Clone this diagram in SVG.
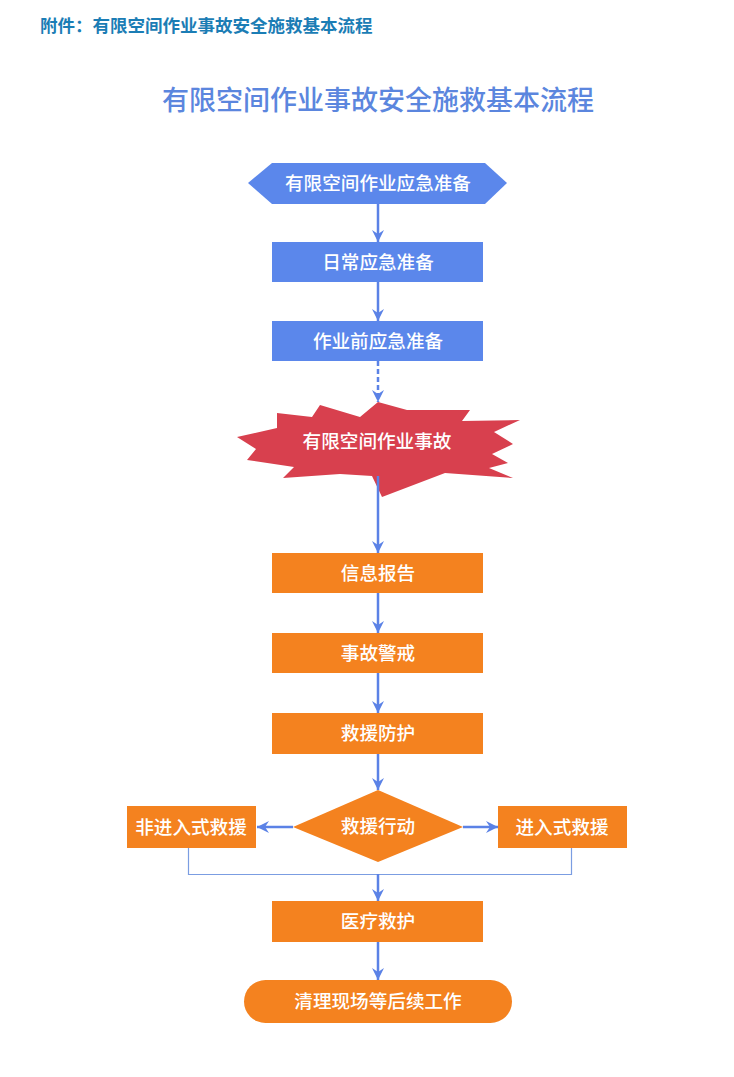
<svg xmlns="http://www.w3.org/2000/svg" width="734" height="1077" viewBox="0 0 734 1077">
<style>
.t{font-family:"Noto Sans CJK SC","Noto Sans",sans-serif;fill:#fff;font-size:18.6px;font-weight:500;text-anchor:middle;dominant-baseline:central}
.blue{fill:#5b87eb}
.org{fill:#f4821f}
.ln{stroke:#5b82e6;stroke-width:2.5;fill:none}
.thin{stroke:#7b9de2;stroke-width:1.2;fill:none}
</style>
<defs>
<marker id="ah" viewBox="0 0 12 12" refX="12" refY="6" markerWidth="12" markerHeight="12" markerUnits="userSpaceOnUse" orient="auto">
<path d="M0,0 L12,6 L0,12 L4,6 z" fill="#5b82e6"/>
</marker>
</defs>
<rect width="734" height="1077" fill="#fff"/>
<text x="40" y="32" style="font-family:'Noto Sans CJK SC',sans-serif;font-size:17.5px;font-weight:700;fill:#1b7db5">附件：有限空间作业事故安全施救基本流程</text>
<text x="378" y="110" style="font-family:'Noto Sans CJK SC',sans-serif;font-size:27px;font-weight:500;fill:#5b86de;text-anchor:middle">有限空间作业事故安全施救基本流程</text>

<g id="n-prep">
<polygon class="blue" points="248,183 272,163 485,163 507,183 485,204 272,204"/>
<text class="t" x="378" y="181.5">有限空间作业应急准备</text>
</g>
<g id="n-daily">
<rect class="blue" x="272" y="242" width="211" height="40"/>
<text class="t" x="378" y="260.5">日常应急准备</text>
</g>
<g id="n-pre">
<rect class="blue" x="272" y="321" width="211" height="40"/>
<text class="t" x="378" y="339.5">作业前应急准备</text>
</g>
<g id="n-accident">
<polygon fill="#d8404e" points="378,402 407,410 470,410 462,421 520,420 494,432 513,444 492,454 508,463 489,468 513,478 445,473 382,497 372,476 340,474 283,478 294,467 247,460 256,449 237,437 277,428 277,413 312,417 320,405 360,417"/>
<text class="t" x="377" y="439.5">有限空间作业事故</text>
</g>
<g id="n-report">
<rect class="org" x="272" y="553" width="211" height="40"/>
<text class="t" x="378" y="571.5">信息报告</text>
</g>
<g id="n-alert">
<rect class="org" x="272" y="633" width="211" height="40"/>
<text class="t" x="378" y="651.5">事故警戒</text>
</g>
<g id="n-protect">
<rect class="org" x="272" y="713" width="211" height="41"/>
<text class="t" x="378" y="731.5">救援防护</text>
</g>
<g id="n-action">
<polygon class="org" points="378,790 463,827 378,862 293,827"/>
<text class="t" x="378" y="824.5">救援行动</text>
</g>
<g id="n-nonentry">
<rect class="org" x="127" y="806" width="129" height="42"/>
<text class="t" x="191" y="825.5">非进入式救援</text>
</g>
<g id="n-entry">
<rect class="org" x="498" y="806" width="129" height="42"/>
<text class="t" x="562" y="825.5">进入式救援</text>
</g>
<g id="n-medical">
<rect class="org" x="272" y="901" width="211" height="41"/>
<text class="t" x="378" y="919.5">医疗救护</text>
</g>
<g id="n-cleanup">
<rect class="org" x="244" y="980" width="268" height="43" rx="21.5"/>
<text class="t" x="378" y="999.5">清理现场等后续工作</text>
</g>

<g id="connectors">
<line class="ln" x1="378" y1="204" x2="378" y2="242" marker-end="url(#ah)"/>
<line class="ln" x1="378" y1="282" x2="378" y2="321" marker-end="url(#ah)"/>
<line class="ln" x1="378" y1="361" x2="378" y2="402" stroke-dasharray="5,3" marker-end="url(#ah)"/>
<line class="ln" x1="378" y1="476" x2="378" y2="553" marker-end="url(#ah)"/>
<line class="ln" x1="378" y1="593" x2="378" y2="633" marker-end="url(#ah)"/>
<line class="ln" x1="378" y1="673" x2="378" y2="713" marker-end="url(#ah)"/>
<line class="ln" x1="378" y1="754" x2="378" y2="790" marker-end="url(#ah)"/>
<line class="ln" x1="293" y1="827" x2="257" y2="827" marker-end="url(#ah)"/>
<line class="ln" x1="463" y1="827" x2="498" y2="827" marker-end="url(#ah)"/>
<polyline class="thin" points="188.5,848 188.5,874.5 571.5,874.5 571.5,848"/>
<line class="ln" x1="378" y1="874" x2="378" y2="901" marker-end="url(#ah)"/>
<line class="ln" x1="378" y1="942" x2="378" y2="980" marker-end="url(#ah)"/>
</g>
</svg>
